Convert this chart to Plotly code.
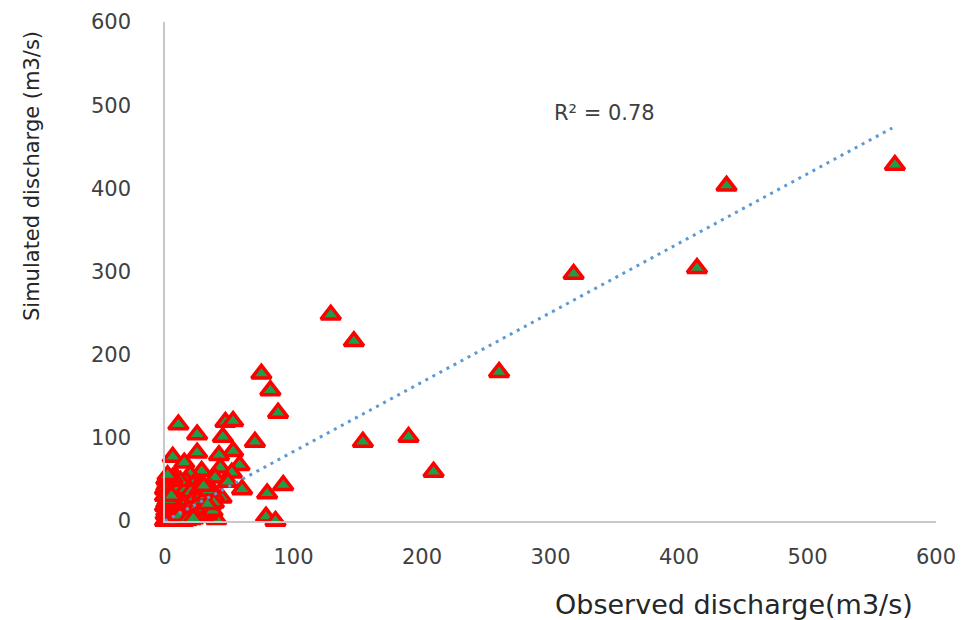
import plotly.graph_objects as go

# Observed vs simulated discharge (m3/s)
observed = [
    # outliers / sparse points
    568, 437, 414, 318, 260, 209, 189.5, 154, 147, 129,
    75, 82, 88, 70, 92, 79.5, 78.6, 86,
    47, 53, 10.4, 25, 45, 53, 6, 25, 42, 15, 58, 28.5, 43, 52,
    8, 19.5, 39, 49, 60, 44, 36, 40, 4,
    # dense cluster near origin
    0, 1, 2, 0.5, 3, 1, 2, 4, 5, 3, 0, 1, 4, 2, 5,
    6, 7, 8, 6, 9, 7, 10, 6, 8, 11, 12, 13, 14, 10, 12, 9, 7, 5, 3, 4, 2, 1, 10, 13, 15, 15,
    16, 17, 18, 19, 20, 21, 22, 23, 24, 25, 18, 16, 20, 22, 24,
    26, 27, 28, 29, 30, 31, 32, 33, 34, 35, 36, 38, 30, 27,
    0, 0, 1, 2, 3, 5, 6, 8, 9, 11, 12, 14, 16, 17, 18, 19, 20, 21, 23, 23, 25, 26,
    27, 28, 29, 31, 32, 33, 34, 36, 37, 38, 14, 8, 11, 17, 22, 3, 5, 12, 6, 2, 30, 33,
]
simulated = [
    428, 403, 304, 297, 179, 59, 101, 95, 216, 248,
    177, 157, 130, 95, 43, 33, 5, 0,
    119, 120, 116, 104, 101, 84, 77, 82, 79, 70, 67, 60, 64, 58,
    54, 56, 52, 47, 38, 28, 25, 2, 0,
    0, 2, 5, 8, 1, 12, 15, 3, 7, 10, 18, 22, 14, 25, 20,
    2, 5, 10, 15, 18, 22, 25, 28, 32, 30, 12, 8, 20, 3, 36, 40, 45, 35, 30, 40, 45, 50, 46, 42, 28, 15,
    5, 22, 33, 38, 10, 28, 18, 35, 25, 40, 45, 48, 2, 44, 8,
    30, 20, 35, 12, 28, 40, 22, 32, 15, 25, 38, 30, 5, 44,
    30, 38, 42, 35, 48, 44, 38, 50, 28, 40, 22, 33, 38, 12, 25, 5, 35, 18, 12, 28, 18, 8,
    38, 25, 32, 15, 30, 8, 36, 20, 12, 22, 0, 0, 6, 1, 3, 25, 30, 48, 52, 55, 42, 20,
]

# Linear trendline (Excel-style)
trend_slope = 0.835
trend_intercept = 0.0
trend_x = [0, 566]
r2_label = "R² = 0.78"

x_ticks = [0, 100, 200, 300, 400, 500, 600]
y_ticks = [0, 100, 200, 300, 400, 500, 600]

FONT = "DejaVu Sans"

# the page body has an 8px margin, so the figure is drawn 8px smaller
OFF = 8
W, H = 963 - OFF, 620 - OFF
ML, MR, MT, MB = 165 - OFF, 27, 22 - OFF, 99
pw, ph = W - ML - MR, H - MT - MB


def px_to_paper(px, py):
    """page pixel -> paper coordinates"""
    return (px - OFF - ML) / pw, (H - MB - (py - OFF)) / ph


fig = go.Figure()

fig.add_trace(go.Scatter(
    x=observed, y=simulated, mode="markers",
    marker=dict(symbol="triangle-up", size=17, color="#1f9e48",
                line=dict(color="#ff0000", width=3.5)),
    cliponaxis=False, showlegend=False, hoverinfo="x+y",
))

fig.add_trace(go.Scatter(
    x=trend_x, y=[trend_slope * v + trend_intercept for v in trend_x],
    mode="lines", line=dict(color="#5b9bd5", width=3, dash="3px,5px"),
    showlegend=False, hoverinfo="skip",
))

axis_common = dict(
    showgrid=False, zeroline=False, showline=True, automargin=False,
    linecolor="#c8c8c8", linewidth=1.5, ticks="",
    tickfont=dict(family=FONT, size=21, color="#404040"),
)

xt_x, xt_y = px_to_paper(734, 604)
yt_x, yt_y = px_to_paper(32, 176)

fig.update_layout(
    width=W, height=H,
    margin=dict(l=ML, r=MR, t=MT, b=MB, autoexpand=False),
    paper_bgcolor="white", plot_bgcolor="white",
    xaxis=dict(range=[0, 600], tickvals=x_ticks, ticklabelstandoff=16, **axis_common),
    yaxis=dict(range=[0, 600], tickvals=y_ticks, ticklabelstandoff=28, **axis_common),
    annotations=[
        dict(text=r2_label, x=342, y=490, xref="x", yref="y", showarrow=False,
             font=dict(family=FONT, size=21, color="#404040")),
        dict(text="Observed discharge(m3/s)", xref="paper", yref="paper",
             x=xt_x, y=xt_y, xanchor="center", yanchor="middle", showarrow=False,
             font=dict(family=FONT, size=27, color="#262626")),
        dict(text="Simulated discharge (m3/s)", xref="paper", yref="paper",
             x=yt_x, y=yt_y, textangle=-90,
             xanchor="center", yanchor="middle", showarrow=False,
             font=dict(family=FONT, size=21, color="#262626")),
    ],
)

fig.write_html("out.html")
